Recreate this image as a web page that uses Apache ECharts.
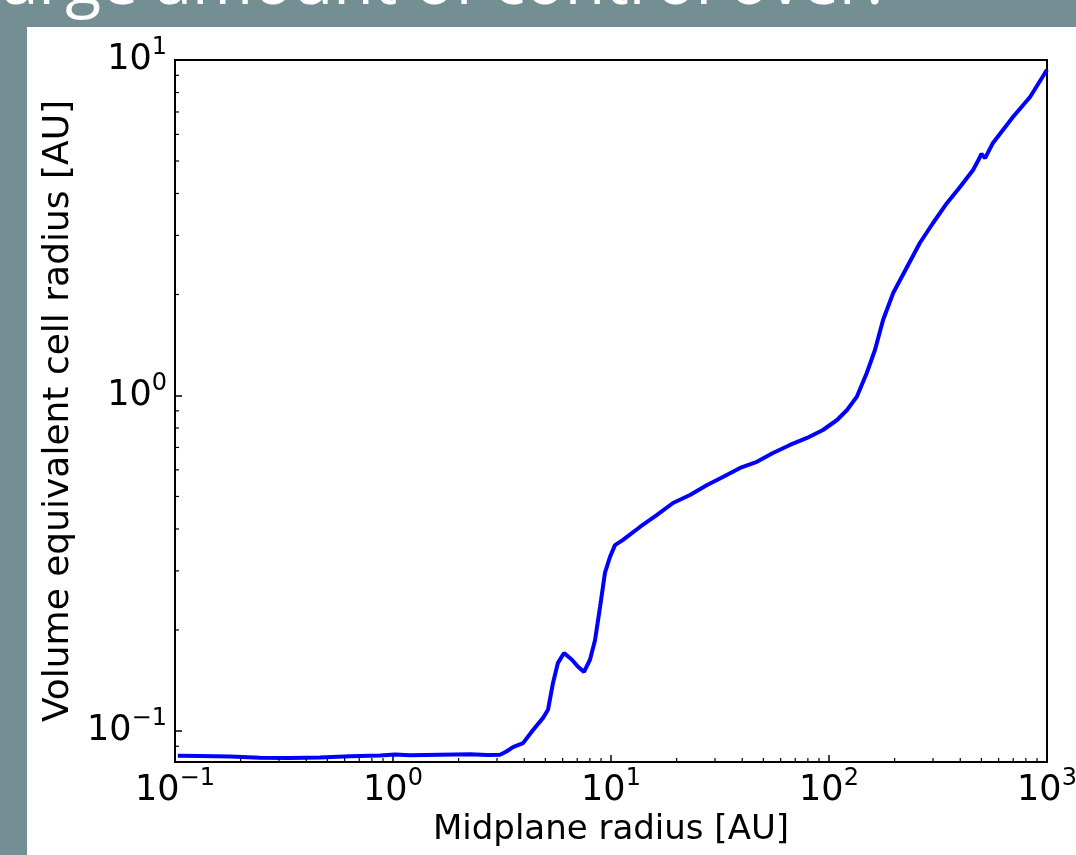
<!DOCTYPE html>
<html>
<head>
<meta charset="utf-8">
<script src="https://cdn.jsdelivr.net/npm/echarts@6/dist/echarts.min.js"></script>
<style>
    html, body { margin: 0; padding: 0; background: #748f93; }
    #radiusChart { width: 1076px; height: 855px; }
</style>
</head>
<body>
<div id="radiusChart"></div>
<script>
    // midplane radius [AU] and volume equivalent cell radius [AU]
    var radius = [0.103, 0.13, 0.179, 0.245, 0.337, 0.462, 0.635, 0.871, 1.02, 1.197, 1.64, 2.26, 2.7, 3.10,
        3.33, 3.55, 3.95, 4.39, 4.88, 5.14, 5.42, 5.71, 6.09, 6.62, 7.06, 7.52, 8.01, 8.45, 8.91, 9.38, 9.89,
        10.43, 11.35, 13.58, 16.26, 19.25, 23.03, 27.6, 32.6, 39.1, 46.7, 55.3, 66.2, 79.3, 93.8,
        108.9, 121, 134, 149, 162.5, 177, 197, 228, 261, 300, 348, 399, 458, 493, 500, 520, 565, 698, 836, 979, 1000]
    var cellRadius = [0.0843, 0.0842, 0.0839, 0.0832, 0.0830, 0.0833, 0.0840, 0.0845, 0.0851, 0.0846, 0.0849, 0.0852, 0.0848, 0.0849,
        0.0870, 0.0895, 0.092, 0.1007, 0.1094, 0.1156, 0.139, 0.1596, 0.1708, 0.163, 0.1553, 0.150, 0.163, 0.1867, 0.2344, 0.2958, 0.330,
        0.358, 0.371, 0.4055, 0.4406, 0.478, 0.505, 0.541, 0.5715, 0.608, 0.634, 0.674, 0.712, 0.747, 0.789,
        0.845, 0.905, 0.990, 1.167, 1.366, 1.679, 2.021, 2.415, 2.848, 3.267, 3.749, 4.183, 4.70, 5.14, 5.25, 5.10, 5.66, 6.76, 7.76, 9.15, 9.35]

    var xMin = 0.1, xMax = 1000
    var yMin = 0.0808, yMax = 10
    var xMinorTicks = [0.2, 0.3, 0.4, 0.5, 0.6, 0.7, 0.8, 0.9, 2, 3, 4, 5, 6, 7, 8, 9,
        20, 30, 40, 50, 60, 70, 80, 90, 200, 300, 400, 500, 600, 700, 800, 900]
    var yMinorTicks = [0.09, 0.2, 0.3, 0.4, 0.5, 0.6, 0.7, 0.8, 0.9, 2, 3, 4, 5, 6, 7, 8, 9]

    var labelFont = 'DejaVu Sans'

    function powLabel (value) {
        var e = Math.log10(value)
        if (Math.abs(e - Math.round(e)) > 1e-6) return ''
        e = Math.round(e)
        var s = e < 0 ? '\u2212' + Math.abs(e) : String(e)
        return '{b|10}{s|' + s + '}'
    }

    var richLabel = {
        b: { fontSize: 35, fontFamily: labelFont, color: '#000', lineHeight: 48 },
        s: { fontSize: 24, fontFamily: labelFont, color: '#000', lineHeight: 26, verticalAlign: 'top' }
    }

    var data = radius.map(function (r, i) { return [r, cellRadius[i]] })

    var myChart = echarts.init(document.getElementById('radiusChart'))
    var option = {
        backgroundColor: '#748f93',
        animation: false,
        graphic: [
            {
                type: 'rect',
                z: -10,
                shape: { x: 27, y: 27, width: 1049, height: 828 },
                style: { fill: '#fff' }
            },
            {
                // slide title, mostly cut off at the top of the picture
                type: 'text',
                x: -15,
                y: -15,
                style: {
                    text: 'large amount of control over.',
                    fill: '#fff',
                    font: '66px "Open Sans"',
                    verticalAlign: 'middle'
                }
            }
        ],
        grid: {
            left: 175,
            top: 60,
            right: 29,
            bottom: 93,
            outerBoundsMode: 'none',
            show: true,
            borderColor: '#000',
            borderWidth: 2,
            backgroundColor: 'transparent'
        },
        xAxis: {
            type: 'log',
            logBase: 10,
            min: xMin,
            max: xMax,
            name: 'Midplane radius [AU]',
            nameLocation: 'middle',
            nameGap: 51,
            nameTextStyle: { fontSize: 34, fontFamily: labelFont, color: '#000' },
            axisLine: { lineStyle: { color: '#000', width: 2 } },
            axisTick: { inside: true, length: 7, lineStyle: { color: '#000', width: 1.5 } },
            axisLabel: { margin: 5, formatter: powLabel, rich: richLabel },
            splitLine: { show: false }
        },
        yAxis: {
            type: 'log',
            logBase: 10,
            min: yMin,
            max: yMax,
            name: 'Volume equivalent cell radius [AU]',
            nameLocation: 'middle',
            nameGap: 95,
            nameTextStyle: { fontSize: 36, fontFamily: labelFont, color: '#000' },
            axisLine: { lineStyle: { color: '#000', width: 2 } },
            axisTick: { inside: true, length: 7, lineStyle: { color: '#000', width: 1.5 } },
            axisLabel: { margin: 8, showMinLabel: false, formatter: powLabel, rich: richLabel },
            splitLine: { show: false }
        },
        series: [
            {
                name: 'cell radius',
                type: 'line',
                data: data,
                showSymbol: false,
                symbol: 'none',
                lineStyle: { color: '#0000ff', width: 4 },
                z: 3
            },
            {
                // minor ticks on the x axis
                type: 'custom',
                silent: true,
                data: xMinorTicks.map(function (v) { return [v, yMin] }),
                renderItem: function (params, api) {
                    var p = api.coord([api.value(0), api.value(1)])
                    return {
                        type: 'line',
                        shape: { x1: p[0], y1: p[1], x2: p[0], y2: p[1] - 4 },
                        style: { stroke: '#000', lineWidth: 1.2 }
                    }
                },
                z: 4
            },
            {
                // minor ticks on the y axis
                type: 'custom',
                silent: true,
                data: yMinorTicks.map(function (v) { return [xMin, v] }),
                renderItem: function (params, api) {
                    var p = api.coord([api.value(0), api.value(1)])
                    return {
                        type: 'line',
                        shape: { x1: p[0], y1: p[1], x2: p[0] + 4, y2: p[1] },
                        style: { stroke: '#000', lineWidth: 1.2 }
                    }
                },
                z: 4
            }
        ]
    }
    myChart.setOption(option)
</script>
</body>
</html>
